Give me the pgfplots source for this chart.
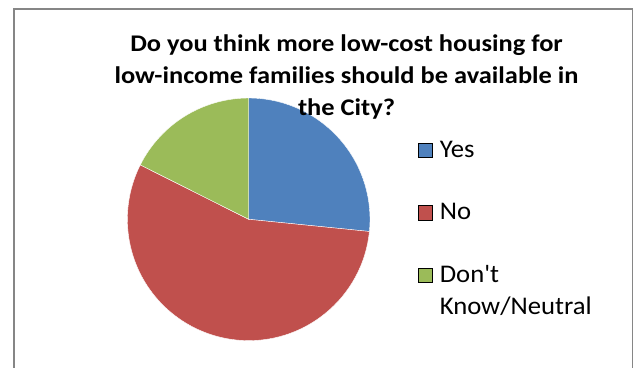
\documentclass[border=0pt]{standalone}
\usepackage{pgfplots}
\pgfplotsset{compat=1.18}
\usepackage{pgfplotstable}
\usepackage{fontspec}
\setmainfont{Carlito}
\newfontfamily\titlefont{Carlito}[FakeStretch=1.105]
\newfontfamily\legfont{Carlito}[FakeStretch=1.05]
\definecolor{cYes}{HTML}{4F81BD}
\definecolor{cNo}{HTML}{C0504D}
\definecolor{cDK}{HTML}{9BBB59}
\definecolor{frameg}{HTML}{868686}

\pgfplotstableread{
label value
Yes 26.6
No 55.8
DK 17.6
}\piedata

\pgfplotstablegetelem{0}{value}\of\piedata \let\vA\pgfplotsretval
\pgfplotstablegetelem{1}{value}\of\piedata \let\vB\pgfplotsretval
\pgfplotstablegetelem{2}{value}\of\piedata \let\vC\pgfplotsretval
\pgfmathsetmacro\tot{\vA+\vB+\vC}
\pgfmathsetmacro\angA{90-\vA/\tot*360}
\pgfmathsetmacro\angB{\angA-\vB/\tot*360}
\pgfmathsetmacro\angC{\angB-\vC/\tot*360}

\begin{document}
\begin{tikzpicture}
\begin{axis}[name=ax, scale only axis, width=637bp, height=368bp,
  xmin=0, xmax=637, ymin=0, ymax=368, y dir=reverse, hide axis, clip=false,
  title={Do you think more low-cost housing for\\low-income families should be available in\\the City?},
  title style={at={(axis cs:346.5,40)}, anchor=north, align=center, inner sep=0pt,
    font=\titlefont\bfseries\fontsize{24}{32.5}\selectfont},
  legend image code/.code={\fill[#1] (0bp,0bp) rectangle (14.4bp,14.4bp);},
  legend cell align=left,
  legend style={at={(axis cs:417.3,139)}, anchor=north west, draw=none, fill=none,
    inner sep=0pt, row sep=38.5bp, column sep=7.5bp,
    font=\legfont\fontsize{25.5}{32.5}\selectfont,
    nodes={inner sep=0pt, text height=18bp, text depth=6bp, anchor=base west}},
]
\fill[cYes, draw=white, line width=0.4bp] (axis cs:248.7,219.3) -- ++(90:121.3bp) arc[start angle=90, end angle=\angA, radius=121.3bp] -- cycle;
\fill[cNo, draw=white, line width=0.4bp] (axis cs:248.7,219.3) -- ++(\angA:121.3bp) arc[start angle=\angA, end angle=\angB, radius=121.3bp] -- cycle;
\fill[cDK, draw=white, line width=0.4bp] (axis cs:248.7,219.3) -- ++(\angB:121.3bp) arc[start angle=\angB, end angle=\angC, radius=121.3bp] -- cycle;
\draw[frameg, line width=1.6bp] (axis cs:14,400) -- (axis cs:14,8.8) -- (axis cs:632.5,8.8) -- (axis cs:632.5,400);
\addlegendimage{fill=cYes}
\addlegendentry{Yes}
\addlegendimage{fill=cNo}
\addlegendentry{No}
\addlegendimage{fill=cDK}
\addlegendentry{\begin{tabular}[t]{@{}l@{}}Don't\\Know/Neutral\end{tabular}}
\end{axis}
\pgfresetboundingbox
\path[use as bounding box] (ax.south west) rectangle (ax.north east);
\end{tikzpicture}
\end{document}
